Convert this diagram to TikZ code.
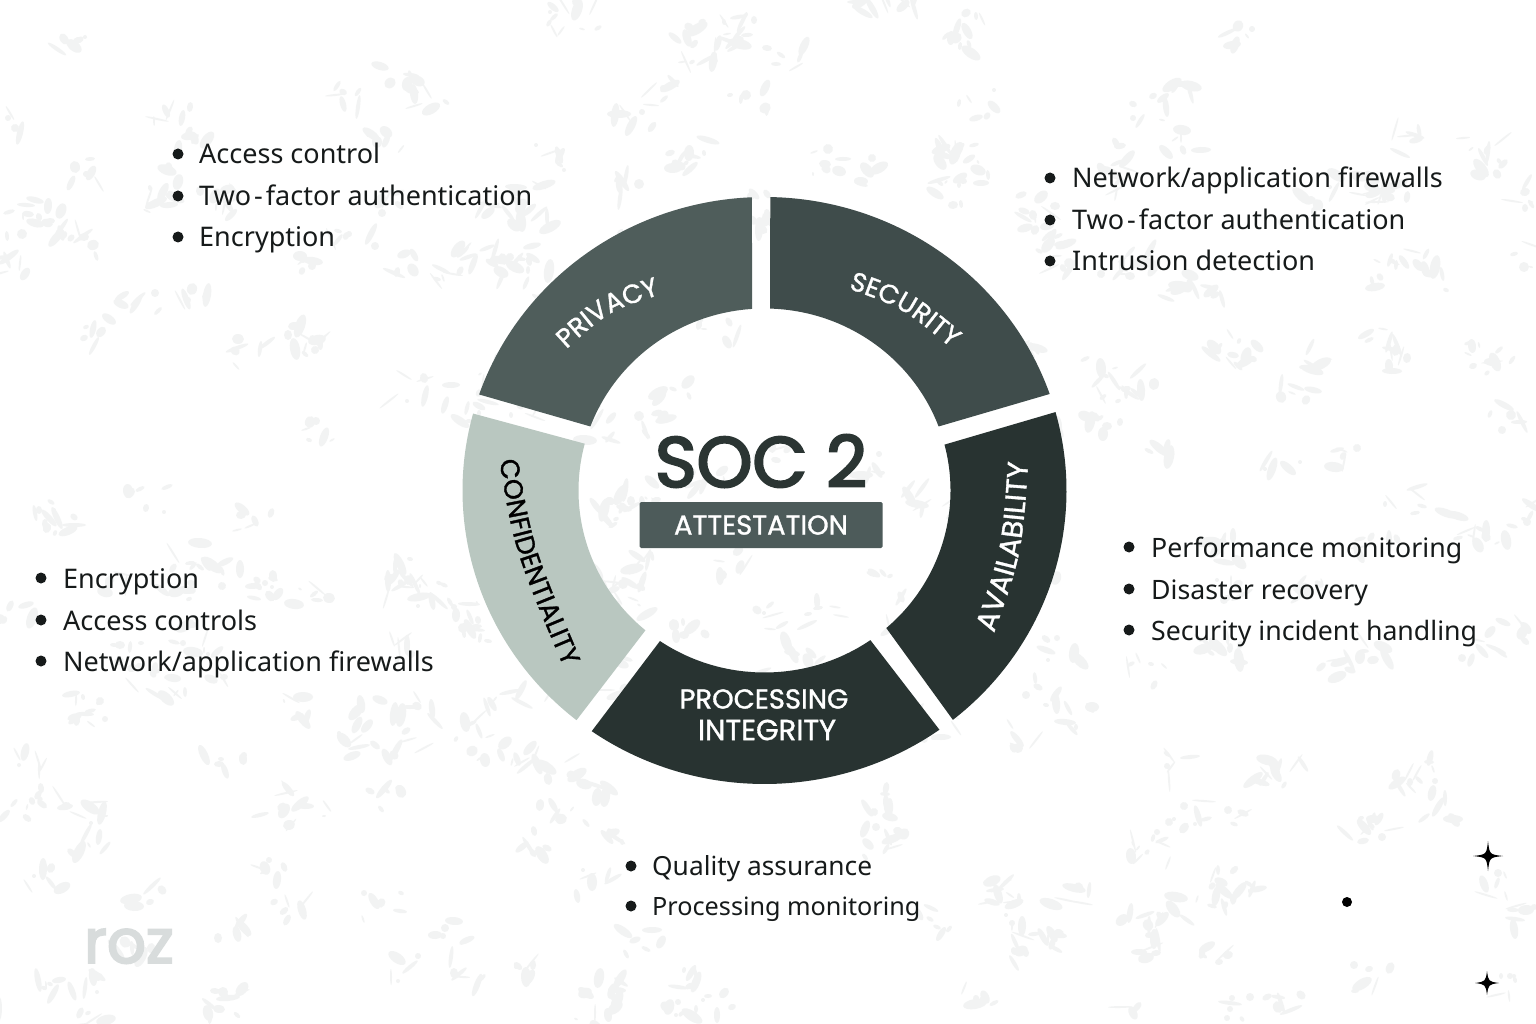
\documentclass[tikz,border=0pt]{standalone}
\usepackage{fontspec}
\setmainfont{Noto Sans}
\newfontfamily\ringfont[FakeBold=1.2]{Poppins}
\newfontfamily\socfont[FakeBold=3.2]{Poppins}
\usetikzlibrary{decorations.text}
\definecolor{inkdark}{RGB}{22, 26, 26}
\definecolor{socdark}{RGB}{43, 53, 51}
\definecolor{segprivacy}{RGB}{79, 93, 91}
\definecolor{segsecurity}{RGB}{63, 76, 75}
\definecolor{segdark}{RGB}{40, 51, 49}
\definecolor{segconf}{RGB}{185, 199, 192}
\definecolor{boxgrey}{RGB}{77, 91, 90}
\definecolor{mottle}{RGB}{242, 243, 243}
\definecolor{rozgrey}{RGB}{216, 220, 220}
\tikzset{
    itemtext/.style={anchor=base west, inner sep=0pt, text=inkdark, font=\fontsize{27}{27}\selectfont},
    itemdot/.style={circle, fill=inkdark, inner sep=0pt, minimum size=11pt},
    ringlabel/.style={text=white, inner sep=0pt, font=\ringfont\fontsize{27.4}{28}\selectfont},
    ringalong/.style={decorate, decoration={text along path, text align=center, text={#1}}}
}
\begin{document}
\begin{tikzpicture}[x=1pt, y=1pt]

    \useasboundingbox (0,0) rectangle (1536,-1024);
    \fill[white] (0,0) rectangle (1536,-1024);

    % Paper texture
    \pgfmathsetseed{318}
    \foreach \n in {1, 2, ..., 300}
    {
        \pgfmathsetmacro{\bx}{random(0,1536)}
        \pgfmathsetmacro{\by}{random(0,1024)}
        \foreach \m in {1, 2, ..., 6}
        {
            \pgfmathsetmacro{\cx}{\bx+random(-20,20)}
            \pgfmathsetmacro{\cy}{\by+random(-14,14)}
            \pgfmathsetmacro{\ca}{random(0,180)}
            \pgfmathsetmacro{\cw}{random(2,12)}
            \pgfmathsetmacro{\ch}{random(1,5)}
            \fill[mottle, rotate around={\ca:(\cx,-\cy)}] (\cx,-\cy) ellipse ({\cw pt} and {\ch pt});
        }
    }

    % Ring segments
    \begin{scope}[shift={(764.5,-490.5)}]
        \foreach \oa/\ob/\ia/\ib/\segcol in {
            92.4/160.9/93.8/159.4/segprivacy,
            88.9/19.2/88.3/20.6/segsecurity,
            15.5/-51.4/14.6/-49.1/segdark,
            235.1/305.4/235.8/304.7/segdark,
            164.8/231.5/165.1/230.2/segconf}
        {
            \fill[\segcol] (\oa:302pt and 293.5pt)
                arc[start angle=\oa, end angle=\ob, x radius=302pt, y radius=293.5pt]
                -- (\ib:186pt and 182pt)
                arc[start angle=\ib, end angle=\ia, x radius=186pt, y radius=182pt]
                -- cycle;
        }
    \end{scope}

    % Ring labels
    \path[ringalong={|\ringfont\fontsize{26.5}{27}\selectfont\color{white}|PRIVACY}]
        (560,-355) .. controls (608,-311) .. (668,-292);
    \path[ringalong={|\ringfont\fontsize{26.5}{27}\selectfont\color{white}|SECURITY}]
        (844,-287) .. controls (903,-308) .. (955,-351);
    \path[ringalong={|\ringfont\fontsize{29}{29}\selectfont\color{white}|AVAILABILITY}]
        (990,-644) .. controls (1022,-555) .. (1029,-451);
    \path[ringalong={|\ringfont\fontsize{26.5}{27}\selectfont\color{black}|CONFIDENTIALITY}]
        (498,-452) .. controls (514,-550) .. (567,-675);
    \node[ringlabel] (proc) at (764,-699) {PROCESSING};
    \node[ringlabel, font=\ringfont\fontsize{29}{29}\selectfont] (integ) at (767,-730) {INTEGRITY};

    % Centre
    \node[text=socdark, inner sep=0pt, font=\socfont\fontsize{71}{71}\selectfont] (soc) at (761,-461) {SOC 2};
    \node[fill=boxgrey, rounded corners=1.5pt, minimum width=243pt, minimum height=46pt, inner sep=0pt] (attbox) at (761,-525) {};
    \node[ringlabel] (att) at (attbox) {ATTESTATION};

    % Privacy list
    \foreach \y/\t [count=\i] in {154/Access control, 196/Two\kern3pt-\kern3pt factor authentication, 237/Encryption}
    {
        \node[itemdot] (pd\i) at (178,-\y) {};
        \node[itemtext] (pt\i) at (199,-\y-10) {\t};
    }

    % Security list
    \foreach \y/\t [count=\i] in {178/Network\slash application firewalls, 220/Two\kern3pt-\kern3pt factor authentication, 261/Intrusion detection}
    {
        \node[itemdot] (sd\i) at (1050,-\y) {};
        \node[itemtext] (st\i) at (1072,-\y-10) {\t};
    }

    % Availability list
    \foreach \y/\t [count=\i] in {547/Performance monitoring, 589/Disaster recovery, 630/Security incident handling}
    {
        \node[itemdot] (ad\i) at (1129,-\y) {};
        \node[itemtext, font=\fontsize{26.7}{27}\selectfont] (at\i) at (1151,-\y-10) {\t};
    }

    % Processing list
    \foreach \y/\fs/\t [count=\i] in {866/26.3/Quality assurance, 906/25.2/Processing monitoring}
    {
        \node[itemdot] (qd\i) at (631,-\y) {};
        \node[itemtext, font=\fontsize{\fs}{26}\selectfont] (qt\i) at (652,-\y-9) {\t};
    }

    % Confidentiality list
    \foreach \y/\t [count=\i] in {578/Encryption, 620/Access controls, 661/Network\slash application firewalls}
    {
        \node[itemdot] (cd\i) at (41,-\y) {};
        \node[itemtext] (ct\i) at (63,-\y-10) {\t};
    }

    % Logo
    \node[anchor=base west, inner sep=0pt, text=rozgrey, font=\socfont\fontsize{61}{61}\selectfont] (logo) at (84,-963) {roz};

    % Sparkles and dot
    \foreach \sx/\sy/\sr in {1488/856/15, 1487/983/12}
    {
        \fill[black, shift={(\sx,-\sy)}] (\sr,0) .. controls (1.5,1.5) .. (0,\sr)
            .. controls (-1.5,1.5) .. (-\sr,0)
            .. controls (-1.5,-1.5) .. (0,-\sr)
            .. controls (1.5,-1.5) .. cycle;
    }
    \node[circle, fill=black, inner sep=0pt, minimum size=10pt] (spot) at (1347,-902) {};

\end{tikzpicture}
\end{document}
